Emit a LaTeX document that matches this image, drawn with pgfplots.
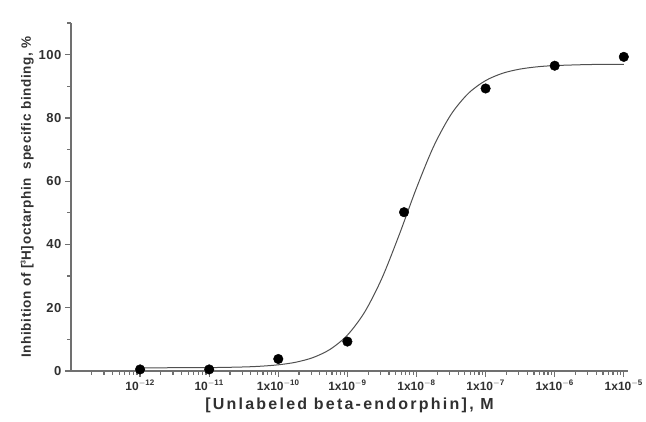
\documentclass[border=0pt]{standalone}
\usepackage{pgfplots}
\pgfplotsset{compat=1.18}
\usepackage{fontspec}
\setmainfont{Liberation Sans}
\definecolor{axgray}{HTML}{707070}
\definecolor{txtgray}{HTML}{303030}
\definecolor{curvegray}{HTML}{505050}
\begin{document}
\begin{tikzpicture}
\begin{axis}[
  scale only axis,
  width=557pt, height=348pt,
  xmode=log,
  xmin=1e-13, xmax=1.15e-5,
  ymin=0, ymax=110,
  axis lines*=left,
  axis line style={axgray, line width=1.4pt},
  clip=false,
  xtick={1e-12,1e-11,1e-10,1e-9,1e-8,1e-7,1e-6,1e-5},
  xticklabels={$\mathbf{10^{-12}}$,$\mathbf{10^{-11}}$,$\mathbf{1x10^{-10}}$,$\mathbf{1x10^{-9}}$,$\mathbf{1x10^{-8}}$,$\mathbf{1x10^{-7}}$,$\mathbf{1x10^{-6}}$,$\mathbf{1x10^{-5}}$},
  minor xtick={2e-13,3e-13,4e-13,5e-13,6e-13,7e-13,8e-13,9e-13,
    2e-12,3e-12,4e-12,5e-12,6e-12,7e-12,8e-12,9e-12,
    2e-11,3e-11,4e-11,5e-11,6e-11,7e-11,8e-11,9e-11,
    2e-10,3e-10,4e-10,5e-10,6e-10,7e-10,8e-10,9e-10,
    2e-9,3e-9,4e-9,5e-9,6e-9,7e-9,8e-9,9e-9,
    2e-8,3e-8,4e-8,5e-8,6e-8,7e-8,8e-8,9e-8,
    2e-7,3e-7,4e-7,5e-7,6e-7,7e-7,8e-7,9e-7,
    2e-6,3e-6,4e-6,5e-6,6e-6,7e-6,8e-6,9e-6},
  ytick={0,20,40,60,80,100},
  minor ytick={10,30,50,70,90,110},
  tick align=outside,
  tick pos=left,
  major tick length=6pt,
  minor tick length=3.5pt,
  every tick/.style={axgray, line width=1.2pt},
  minor tick style={axgray, line width=1.2pt},
  /pgf/number format/assume math mode=true,
  ticklabel style={font=\bfseries\fontsize{12}{13}\selectfont, text=txtgray},
  yticklabel style={font=\bfseries\fontsize{13}{14}\selectfont\addfontfeatures{LetterSpace=4}},
  xticklabel style={yshift=-2pt, inner ysep=1pt},
  ylabel={\addfontfeatures{LetterSpace=5}Inhibition of [\raisebox{0.75ex}{\fontsize{7}{8}\selectfont 3}H]octarphin\ \ specific binding, \%},
  ylabel style={font=\bfseries\fontsize{13.5}{15}\selectfont, text=txtgray, yshift=-2pt},
  xlabel={\addfontfeatures{LetterSpace=14}[Unlabeled beta-endorphin], M},
  xlabel style={font=\bfseries\fontsize{16}{18}\selectfont, text=txtgray,
    at={(axis description cs:0.5,0)}, anchor=north, yshift=-27pt, inner sep=0pt},
]
\addplot[curvegray, line width=1pt, smooth, tension=0.5] coordinates {
(1e-12,1.01) (1e-11,1.08) (3.162e-11,1.28) (5.623e-11,1.52) (1e-10,1.96)
(1.778e-10,2.76) (3.162e-10,4.23) (5.623e-10,6.85) (1e-9,11.34)
(1.778e-9,18.63) (3.162e-9,29.34) (5.623e-9,43.07) (1e-8,57.84)
(1.778e-8,71.08) (3.162e-8,81.09) (5.623e-8,87.75) (1e-7,91.80)
(1.778e-7,94.14) (3.162e-7,95.44) (5.623e-7,96.16) (1e-6,96.54)
(3.162e-6,96.87) (1e-5,96.96)
};
\addplot[only marks, mark=*, mark size=4.8pt, black] coordinates {
(1e-12,0.5) (1e-11,0.5) (1e-10,3.8) (1e-9,9.3) (6.6e-9,50.2)
(1e-7,89.3) (1e-6,96.5) (1e-5,99.3)
};
\end{axis}
\path (current axis.south west) ++(-71pt,-50pt) coordinate (bbA);
\path (current axis.north east) ++(18pt,23pt) coordinate (bbB);
\pgfresetboundingbox
\path (bbA) rectangle (bbB);
\end{tikzpicture}
\end{document}
